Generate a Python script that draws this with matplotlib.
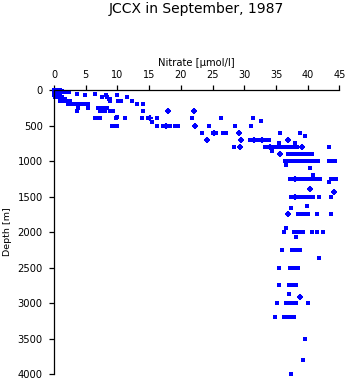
import matplotlib
matplotlib.use("Agg")
import matplotlib.pyplot as plt

# Nitrate profile (umol/l) against depth (m); rows grouped by sampling depth
depth_upper = (
    [0] * 5 + [10] * 4 + [20] * 4 + [30] * 6 + [50] * 5 + [75] * 6 + [100] * 6
    + [125] * 4 + [150] * 8 + [200] * 11 + [250] * 6 + [300] * 9 + [375]
    + [400] * 11 + [430] + [450] + [500] * 15
)
nitrate_upper = [
    0.0, 0.2, 0.4, 0.6, 0.9,
    0.0, 0.3, 0.6, 1.0,
    0.1, 0.4, 0.8, 1.2,
    0.0, 0.3, 0.7, 1.6, 2.0, 2.3,
    0.1, 0.5, 0.9, 3.7, 6.5,
    0.0, 0.4, 1.0, 4.9, 8.2, 9.9,
    0.1, 0.6, 1.2, 7.5, 8.4, 11.5,
    1.3, 1.8, 8.6, 8.8,
    1.0, 1.5, 2.0, 2.5, 8.9, 10.1, 10.6, 12.3,
    2.2, 2.8, 3.2, 3.6, 4.0, 4.4, 4.6, 5.0, 5.4, 13.1, 14.1,
    3.8, 5.3, 7.0, 7.5, 8.0, 8.3,
    3.7, 7.3, 7.7, 8.1, 8.9, 9.3, 14.0, 18.0, 22.1,
    9.9,
    6.5, 7.0, 7.3, 9.8, 11.2, 13.8, 14.9, 16.2, 21.8, 26.4, 31.4,
    32.7,
    15.4,
    9.2, 9.6, 9.9, 16.2, 17.2, 17.6, 18.0, 18.3, 19.1, 19.4, 19.6, 22.2, 24.4, 28.6, 31.1,
]

depth_mid = (
    [600] * 8 + [650] + [700] * 11 + [740] + [750] + [800] * 17 + [860]
    + [900] * 12 + [1000] * 17 + [1060] + [1100] + [1200] + [1250] * 16
    + [1300] + [1400] + [1430] + [1500] * 10
)
nitrate_mid = [
    23.4, 25.1, 25.6, 26.7, 27.1, 29.1, 35.6, 38.8,
    39.6,
    24.1, 29.5, 30.9, 31.2, 31.6, 32.0, 32.4, 32.8, 33.2, 33.9, 36.9,
    38.0,
    35.4,
    28.3, 29.3, 33.3, 33.6, 34.0, 34.4, 34.8, 35.4, 35.8, 36.2, 36.6, 37.0, 37.4, 37.8, 38.3, 39.1, 43.4,
    34.4,
    35.7, 36.9, 37.3, 37.7, 38.1, 38.5, 38.8, 39.0, 39.4, 39.8, 40.2, 40.6,
    36.4, 36.8, 37.2, 37.6, 38.0, 38.4, 38.8, 39.2, 39.6, 40.0, 40.4, 40.8, 41.2, 41.6, 43.4, 43.8, 44.3,
    36.5,
    40.4,
    40.9,
    37.2, 37.6, 38.0, 38.4, 38.8, 39.1, 39.6, 40.0, 40.4, 40.8, 41.2, 41.6, 42.0, 43.7, 44.1, 44.4,
    43.4,
    40.4,
    44.1,
    37.4, 38.0, 38.7, 39.3, 39.7, 40.1, 40.5, 40.8, 41.7, 43.7,
]

depth_deep = (
    [1630] + [1660] + [1750] * 8 + [1940] + [2000] * 9 + [2070] + [2250] * 6
    + [2360] + [2500] * 5 + [2750] * 5 + [2870] + [2920] + [3000] * 7
    + [3200] * 6 + [3500] + [3800] + [4000]
)
nitrate_deep = [
    39.9,
    37.3,
    36.9, 38.4, 39.1, 39.5, 39.9, 40.1, 41.5, 43.7,
    36.6,
    36.3, 37.9, 38.3, 38.7, 39.1, 39.3, 40.6, 41.4, 42.4,
    38.2,
    35.9, 37.5, 37.9, 38.3, 38.6, 38.8,
    41.8,
    35.5, 37.2, 37.6, 38.0, 38.4,
    35.4, 37.0, 37.4, 37.8, 38.1,
    37.0,
    38.8,
    35.1, 36.5, 36.9, 37.3, 37.7, 38.1, 40.1,
    34.9, 36.3, 36.7, 37.1, 37.5, 37.9,
    39.6,
    39.2,
    37.3,
]

# casts flagged with a cross symbol
depth_cross = [300, 300, 400, 500, 500, 600, 600, 700, 700, 700, 700, 700,
               800, 800, 800, 900, 1250, 1400, 1430, 1500, 1750, 2920]
nitrate_cross = [18.0, 22.1, 15.2, 17.6, 22.2, 25.3, 29.1, 24.1, 29.5, 31.6, 32.8, 36.9,
                 29.3, 34.0, 39.1, 35.7, 38.0, 40.4, 44.1, 38.0, 36.9, 38.8]

x_ticks = [0, 5, 10, 15, 20, 25, 30, 35, 40, 45]
y_ticks = [0, 500, 1000, 1500, 2000, 2500, 3000, 3500, 4000]

fig = plt.figure(figsize=(3.48, 3.84), dpi=100)
ax = fig.add_axes([0.155, 0.026, 0.8205, 0.7396])

blue = "#0000ff"
for xs, ys in [(nitrate_upper, depth_upper), (nitrate_mid, depth_mid), (nitrate_deep, depth_deep)]:
    ax.plot(xs, ys, ls="none", marker="s", ms=2.8, mew=0, color=blue, clip_on=False)
ax.plot(nitrate_cross, depth_cross, ls="none", marker="+", ms=4.2, mew=1.5, color=blue, clip_on=False)

ax.set_xlim(0, 45)
ax.set_ylim(4000, 0)
ax.set_xticks(x_ticks)
ax.set_yticks(y_ticks)

ax.xaxis.tick_top()
ax.xaxis.set_label_position("top")
for side in ["bottom", "right"]:
    ax.spines[side].set_visible(False)
for side in ["top", "left"]:
    ax.spines[side].set_linewidth(0.9)
    ax.spines[side].set_color("black")

ax.tick_params(axis="x", direction="out", length=3.6, width=0.9, pad=3.5, labelsize=7)
ax.tick_params(axis="y", direction="out", length=3.6, width=0.9, pad=4.5, labelsize=7.2)

ax.set_xlabel("Nitrate [µmol/l]", fontsize=7.2)
ax.xaxis.set_label_coords(0.5, 1.085)
ax.set_ylabel("Depth [m]", fontsize=6.8)
ax.yaxis.set_label_coords(-0.147, 0.5)

fig.text(0.5654, 1 - 2.5 / 384, "JCCX in September, 1987", ha="center", va="top", fontsize=10)

fig.savefig("out.png", dpi=100)
